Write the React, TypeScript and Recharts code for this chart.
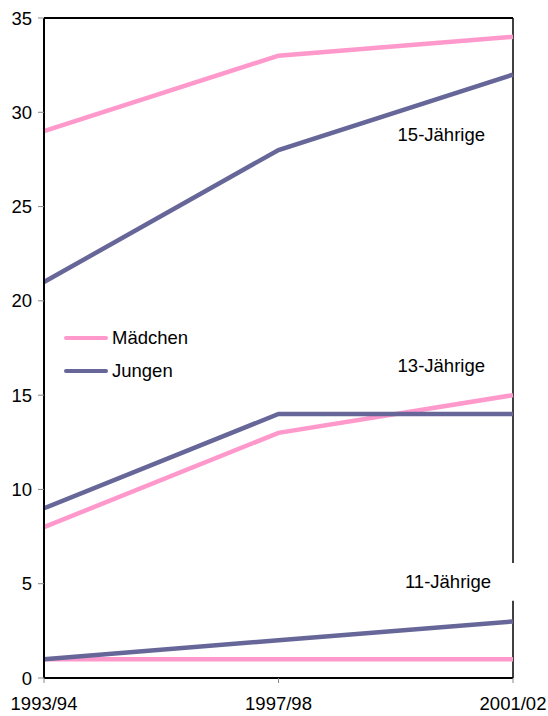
import React from "react";
import { LineChart, Line, XAxis, YAxis, ReferenceLine, ReferenceDot } from "recharts";

const years = ["1993/94", "1997/98", "2001/02"];
const maedchen15 = [29, 33, 34];
const jungen15 = [21, 28, 32];
const maedchen13 = [8, 13, 15];
const jungen13 = [9, 14, 14];
const maedchen11 = [1, 1, 1];
const jungen11 = [1, 2, 3];
const yTicks = [0, 5, 10, 15, 20, 25, 30, 35];

const PINK = "#ff99cc";
const PURPLE = "#666699";
const FONT = "'Liberation Sans', Arial, sans-serif";
const FS = 18.5;

const data = years.map((year, i) => ({
  year,
  m15: maedchen15[i],
  j15: jungen15[i],
  m13: maedchen13[i],
  j13: jungen13[i],
  m11: maedchen11[i],
  j11: jungen11[i],
}));

const legendItems = [
  { name: "Mädchen", color: PINK },
  { name: "Jungen", color: PURPLE },
];

const seriesLines = [
  { key: "m15", color: PINK },
  { key: "j15", color: PURPLE },
  { key: "m13", color: PINK },
  { key: "j13", color: PURPLE },
  { key: "m11", color: PINK },
  { key: "j11", color: PURPLE },
];

const labelStyle = { fill: "#000", fontSize: FS, fontFamily: FONT };

export default function App() {
  return (
    <div style={{ position: "absolute", left: 0, top: 0, width: 548, height: 716, background: "#fff" }}>
      <LineChart width={548} height={716} data={data} margin={{ top: 18, right: 35, bottom: 0, left: 0 }}>
        <XAxis
          dataKey="year"
          padding={{ left: 0, right: 0 }}
          height={38}
          axisLine={{ stroke: "#000", strokeWidth: 2 }}
          tickLine={{ stroke: "#888" }}
          tickSize={5}
          tick={{ fill: "#000", fontSize: FS, fontFamily: FONT, dy: 12 }}
          interval={0}
        />
        <YAxis
          domain={[0, 35]}
          ticks={yTicks}
          width={44}
          axisLine={{ stroke: "#000", strokeWidth: 2 }}
          tickLine={{ stroke: "#888" }}
          tickSize={6}
          tick={{ fill: "#000", fontSize: FS, fontFamily: FONT, dx: -4 }}
        />
        <ReferenceLine y={35} stroke="#000" strokeWidth={2} />
        <ReferenceLine
          segment={[{ x: "2001/02", y: 0 }, { x: "2001/02", y: 4.1 }]}
          stroke="#000"
          strokeWidth={1.5}
        />
        <ReferenceLine
          segment={[{ x: "2001/02", y: 6.1 }, { x: "2001/02", y: 35 }]}
          stroke="#000"
          strokeWidth={1.5}
        />
        {seriesLines.map((s) => (
          <Line
            key={s.key}
            dataKey={s.key}
            stroke={s.color}
            strokeWidth={4.5}
            dot={false}
            activeDot={false}
            isAnimationActive={false}
          />
        ))}
        <ReferenceDot x="2001/02" y={28.8} r={0} fill="none" stroke="none"
          label={{ value: "15-Jährige", position: "left", offset: 28, ...labelStyle }} />
        <ReferenceDot x="2001/02" y={16.6} r={0} fill="none" stroke="none"
          label={{ value: "13-Jährige", position: "left", offset: 28, ...labelStyle }} />
        <ReferenceDot x="2001/02" y={5.1} r={0} fill="none" stroke="none"
          label={{ value: "11-Jährige", position: "left", offset: 22, ...labelStyle }} />
      </LineChart>
      <div style={{ position: "absolute", left: 64, top: 321, fontFamily: FONT, fontSize: FS, color: "#000" }}>
        {legendItems.map((item) => (
          <div key={item.name} style={{ display: "flex", alignItems: "center", height: 33 }}>
            <span style={{ display: "inline-block", width: 44, height: 4, borderRadius: 2, background: item.color, marginRight: 4 }} />
            <span>{item.name}</span>
          </div>
        ))}
      </div>
    </div>
  );
}
